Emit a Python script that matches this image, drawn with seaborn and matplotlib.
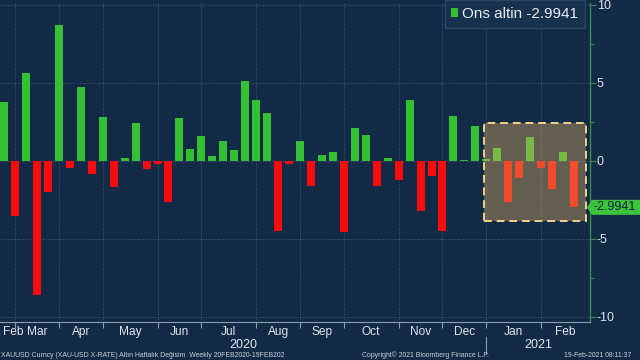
import numpy as np
import pandas as pd
import matplotlib
matplotlib.use("Agg")
import matplotlib.pyplot as plt
from matplotlib.patches import Patch, Rectangle, Polygon
from matplotlib.lines import Line2D
import seaborn as sns

# ---------------- data ----------------
start_date = "2020-02-21"
weekly_change = [3.78, -3.55, 5.6, -8.64, -2.04, 8.72, -0.47, 4.73, -0.85, 2.82,
                 -1.72, 0.15, 2.44, -0.53, -0.22, -2.64, 2.74, 0.78, 1.61, 0.29,
                 1.29, 0.66, 5.11, 3.92, 3.06, -4.48, -0.24, 1.25, -1.6, 0.36,
                 0.53, -4.6, 2.08, 1.63, -1.64, 0.15, -1.25, 3.9, -3.21, -0.96,
                 -4.48, 2.88, 0.05, 2.25, 0.08, 0.8, -2.64, -1.1, 1.5, -0.45,
                 -1.83, 0.53, -2.9941]
month_labels = ["Feb", "Mar", "Apr", "May", "Jun", "Jul", "Aug", "Sep", "Oct",
                "Nov", "Dec", "Jan", "Feb"]
year_labels = ["2020", "2021"]
y_ticks = [-10, -5, 0, 5, 10]
series_name = "Ons altin"
last_value = -2.9941
footer_left = "XAUUSD Curncy (XAU-USD X-RATE) Altın Haftalık Değisim  Weekly 20FEB2020-19FEB202"
footer_mid = "Copyright© 2021 Bloomberg Finance L.P."
footer_right = "19-Feb-2021 08:11:37"

dates = pd.date_range(start_date, periods=len(weekly_change), freq="W-FRI")
df = pd.DataFrame({"idx": np.arange(len(weekly_change)),
                   "val": weekly_change,
                   "date": dates})
df["dir"] = np.where(df["val"] >= 0, "up", "down")

# ---------------- style ----------------
BG = "#122a46"
GREEN = "#33c033"
RED = "#f50c0c"
GRID = "#4d6781"
AXGREEN = "#3a8f4a"
TXT = "#dfe5ec"
FONT = ["Liberation Sans", "DejaVu Sans"]

sns.set_theme(style="dark")
plt.rcParams["font.family"] = FONT

W, H = 640, 360
fig = plt.figure(figsize=(6.4, 3.6), dpi=100)
fig.patch.set_facecolor(BG)
ax = fig.add_axes([0, 1 - 322 / H, 590 / W, (322 - 2.5) / H])
ax.set_facecolor(BG)

sns.barplot(data=df, x="idx", y="val", hue="dir",
            palette={"up": GREEN, "down": RED}, native_scale=True,
            dodge=False, width=0.73, legend=False, saturation=1,
            linewidth=0, ax=ax, zorder=2)

xmin, xmax = -0.37, 53.46
ax.set_xlim(xmin, xmax)
ax.set_ylim(-10.35, 10.15)

# month boundaries (last week of each month)
months = df["date"].dt.month.values
bounds = [i for i in range(len(months) - 1) if months[i + 1] != months[i]]
edges = [xmin] + bounds + [xmax]
label_pos = [(edges[k] + edges[k + 1]) / 2 for k in range(len(edges) - 1)]
label_pos[0] = 0.8

ax.set_xticks(bounds)
ax.set_xticklabels([""] * len(bounds))
ax.set_xticks(label_pos, minor=True)
ax.set_xticklabels(month_labels, minor=True)
ax.tick_params(axis="x", which="major", length=4, width=0.8, color="#8c9bb0",
               direction="out", bottom=True)
ax.tick_params(axis="x", which="minor", length=0, labelsize=8.6, labelcolor=TXT, pad=3)

ax.yaxis.tick_right()
ax.set_yticks(y_ticks)
ax.set_yticklabels([str(t) for t in y_ticks])
ax.set_yticks([-7.5, -2.5, 2.5, 7.5], minor=True)
ax.tick_params(axis="y", which="major", length=4, width=0.8, color=AXGREEN,
               labelcolor=TXT, labelsize=9, pad=1, right=True, left=False,
               direction="out")
ax.tick_params(axis="y", which="minor", length=3, width=0.8, color=AXGREEN,
               right=True, left=False, direction="out")
ax.set_xlabel("")
ax.set_ylabel("")

ax.grid(True, which="major", color=GRID, linestyle=(0, (1, 2)), linewidth=0.6, zorder=0)
ax.set_axisbelow(True)
for s in ["top", "left"]:
    ax.spines[s].set_visible(False)
ax.spines["right"].set_visible(True)
ax.spines["right"].set_color(AXGREEN)
ax.spines["right"].set_linewidth(1.0)
ax.spines["bottom"].set_visible(True)
ax.spines["bottom"].set_color("#8c9bb0")
ax.spines["bottom"].set_linewidth(0.8)

# highlight region overlay
rect = Rectangle((43.8, -3.85), 53.1 - 43.8, 2.42 + 3.85,
                 facecolor=(0.92, 0.70, 0.38, 0.38), edgecolor="#f2d18c",
                 linewidth=1.4, linestyle=(0, (4, 2.5)), zorder=5)
ax.add_patch(rect)

# legend
leg = ax.legend(handles=[Patch(facecolor=GREEN, edgecolor="none")],
                labels=[f"{series_name} {last_value:.4f}"],
                loc="upper right", bbox_to_anchor=(585 / W, 1.0),
                bbox_transform=fig.transFigure, borderaxespad=0,
                fontsize=11, frameon=True, fancybox=False, framealpha=1,
                facecolor="#18314f", edgecolor="#2b4766",
                handlelength=0.45, handleheight=0.45, handletextpad=0.25,
                borderpad=0.45)
for t in leg.get_texts():
    t.set_color("#e8edf2")
leg.set_zorder(10)

# last value tag (pixel geometry, y from data)
fig.canvas.draw()
ypx = ax.transData.transform((0, last_value))[1]  # display px from bottom
tag = Polygon([(587, ypx), (592, ypx + 7.5), (640, ypx + 7.5),
               (640, ypx - 7.5), (592, ypx - 7.5)], closed=True,
              transform=None, facecolor="#3cc23c", edgecolor="none", zorder=11)
fig.add_artist(tag)
fig.text(594 / W, ypx / H, f"{last_value:.4f}", ha="left", va="center",
         fontsize=9, color="#0e2238", zorder=12)

# year labels and divider
to_fig = lambda xd: fig.transFigure.inverted().transform(ax.transData.transform((xd, 0)))[0]
year_pos = [(xmin + bounds[10]) / 2, (bounds[10] + xmax) / 2]
for lab, xp in zip(year_labels, year_pos):
    fig.text(to_fig(xp), 1 - 345 / H, lab, ha="center", va="center",
             fontsize=9, color=TXT)
xd = to_fig(bounds[10])
fig.add_artist(Line2D([xd, xd], [1 - 353 / H, 1 - 337 / H],
                      transform=fig.transFigure, color="#8c9bb0", linewidth=0.8))

# footer
fy = 1 - 355.5 / H
fig.text(0.001, fy, footer_left, ha="left", va="center", fontsize=4.95, color="#c9d1da")
fig.text(425 / W, fy, footer_mid, ha="center", va="center", fontsize=4.95, color="#c9d1da")
fig.text(0.987, fy, footer_right, ha="right", va="center", fontsize=4.95, color="#c9d1da")

fig.savefig("out.png", dpi=100, facecolor=BG)
